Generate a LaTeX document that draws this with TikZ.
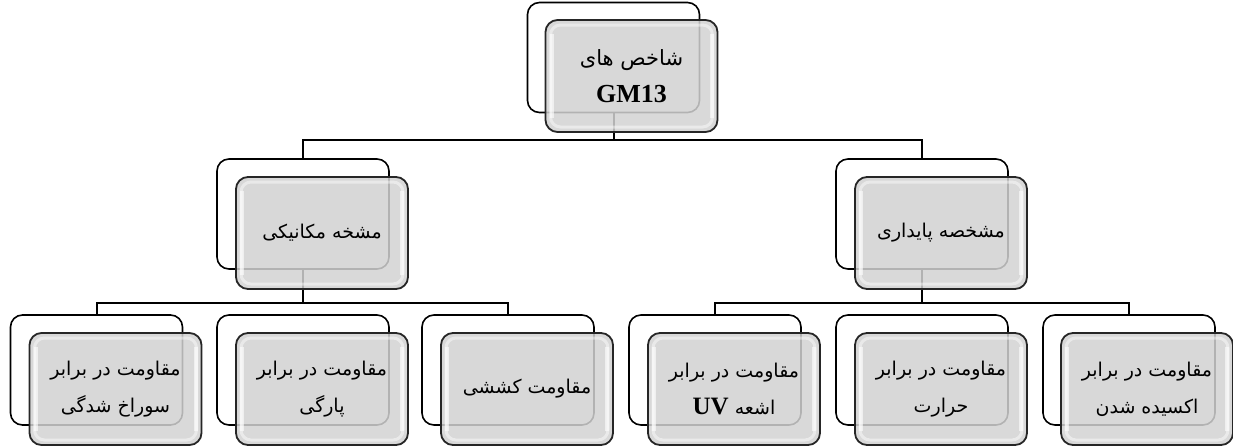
\documentclass[tikz,border=0pt]{standalone}
\usepackage{fontspec}
\setmainfont{Liberation Serif}
\newfontfamily\farsi[Script=Arabic]{DejaVu Sans}
\TeXXeTstate=1
\newcommand{\fatext}[1]{\beginR #1\endR}
\definecolor{boxgray}{RGB}{210,210,210}
\tikzset{
  backbox/.style={draw, line width=1.6pt, rounded corners=12pt, fill=white,
    minimum width=172pt, minimum height=110pt},
  frontbox/.style={draw=black!85, line width=1.8pt, rounded corners=12pt,
    fill=boxgray, fill opacity=0.85, text opacity=1,
    minimum width=172pt, minimum height=112pt, align=center,
    font=\farsi\fontsize{19}{37}\selectfont,
    path picture={
      \draw[white, line width=3pt, opacity=0.45, rounded corners=10pt]
        ([shift={(5pt,-5pt)}]path picture bounding box.north west) rectangle
        ([shift={(-5pt,5pt)}]path picture bounding box.south east);
      \draw[white, line width=4pt, opacity=0.6]
        ([shift={(6pt,-14pt)}]path picture bounding box.north west) --
        ([shift={(6pt,14pt)}]path picture bounding box.south west)
        ([shift={(-6pt,-14pt)}]path picture bounding box.north east) --
        ([shift={(-6pt,14pt)}]path picture bounding box.south east);
    }},
  link/.style={line width=2pt}
}

\begin{document}
\begin{tikzpicture}[x=1pt, y=-1pt]
  \useasboundingbox (0,0) rectangle (1233,447);
  % levels of the connectors
  \coordinate (h0) at (0,140);
  \coordinate (h1) at (0,303);

  % back boxes
  \node[backbox] (b0) at (613.5,57.5) {};
  \node[backbox] (b1) at (303,214) {};
  \node[backbox] (b2) at (922,214) {};
  \node[backbox] (c1) at (96.5,370) {};
  \node[backbox] (c2) at (303,370) {};
  \node[backbox] (c3) at (508,370) {};
  \node[backbox] (c4) at (715,370) {};
  \node[backbox] (c5) at (922,370) {};
  \node[backbox] (c6) at (1129,370) {};

  % connectors
  \draw[link] (b0.south) -- (b0.south |- h0);
  \draw[link] (b1.north) |- (h0 -| b2.north) -- (b2.north);
  \draw[link] (b1.south) -- (b1.south |- h1);
  \draw[link] (c1.north) |- (h1 -| c3.north) -- (c3.north);
  \draw[link] (b2.south) -- (b2.south |- h1);
  \draw[link] (c4.north) |- (h1 -| c6.north) -- (c6.north);

  % front boxes with the texts
  \node[frontbox] (f0) at (631.5,76)
    {\fatext{\fontsize{21}{37}\selectfont شاخص های}\\[0pt] {\rmfamily\bfseries\fontsize{26}{30}\selectfont GM13}};
  \node[frontbox] (f1) at (322,233) {\fatext{مشخه مکانیکی}};
  \node[frontbox] (f2) at (941,233) {\fatext{مشخصه پایداری}};
  \node[frontbox] (d1) at (115.5,389) {\fatext{مقاومت در برابر}\\\fatext{سوراخ شدگی}};
  \node[frontbox] (d2) at (322,389) {\fatext{مقاومت در برابر}\\\fatext{پارگی}};
  \node[frontbox] (d3) at (527,389) {\fatext{مقاومت کششی}};
  \node[frontbox] (d4) at (734,389)
    {\fatext{مقاومت در برابر}\\\fatext{اشعه \beginL{\rmfamily\bfseries\fontsize{25}{30}\selectfont UV}\endL}};
  \node[frontbox] (d5) at (941,389) {\fatext{مقاومت در برابر}\\\fatext{حرارت}};
  \node[frontbox] (d6) at (1147,389) {\fatext{مقاومت در برابر}\\\fatext{اکسیده شدن}};
\end{tikzpicture}
\end{document}
